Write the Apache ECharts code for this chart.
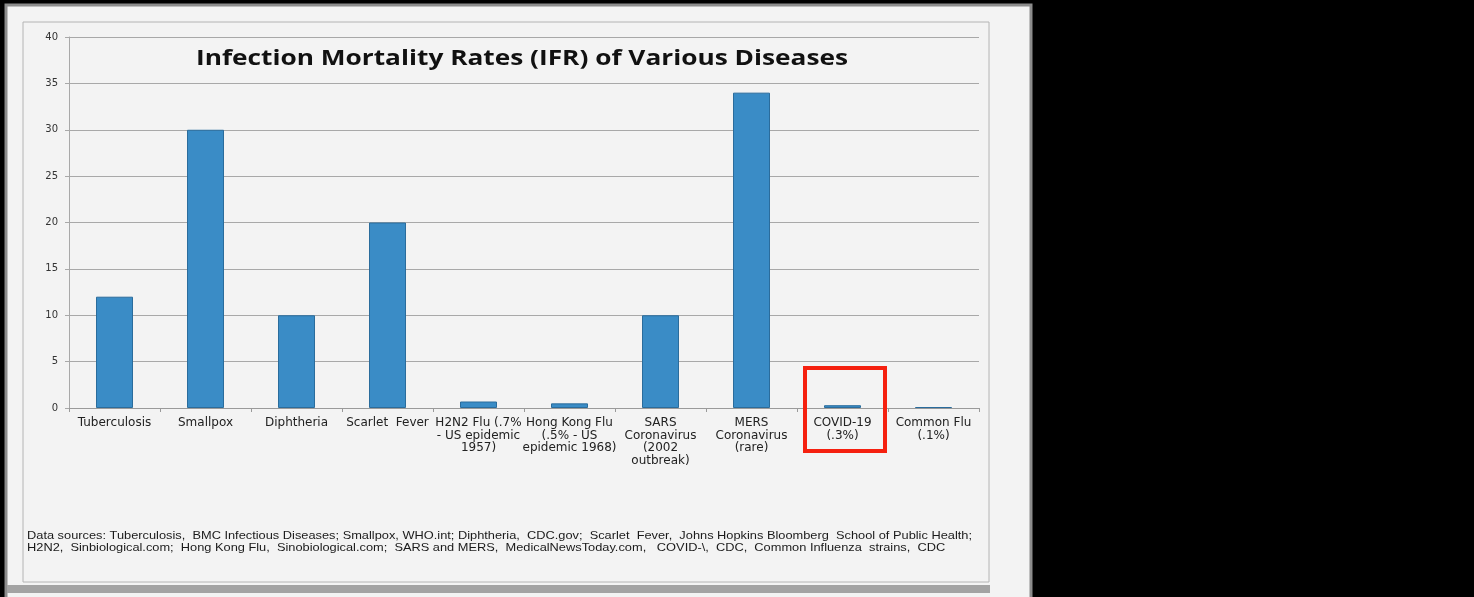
<!DOCTYPE html>
<html>
<head>
<meta charset="utf-8">
<script src="https://cdn.jsdelivr.net/npm/echarts@6/dist/echarts.min.js"></script>
<style>
html,body{margin:0;padding:0;background:#000;}
#c{width:1474px;height:597px;}
</style>
</head>
<body>
<div id="c"></div>
<script>
var categories = [
  "Tuberculosis",
  "Smallpox",
  "Diphtheria",
  "Scarlet  Fever",
  "H2N2 Flu (.7%\n- US epidemic\n1957)",
  "Hong Kong Flu\n(.5% - US\nepidemic 1968)",
  "SARS\nCoronavirus\n(2002\noutbreak)",
  "MERS\nCoronavirus\n(rare)",
  "COVID-19\n(.3%)",
  "Common Flu\n(.1%)"
];
var ifrValues = [12, 30, 10, 20, 0.7, 0.5, 10, 34, 0.3, 0.1];
var yTicks = {min: 0, max: 40, interval: 5};
var titleText = "Infection Mortality Rates (IFR) of Various Diseases";
var sourceLines = [
  "Data sources: Tuberculosis,  BMC Infectious Diseases; Smallpox, WHO.int; Diphtheria,  CDC.gov;  Scarlet  Fever,  Johns Hopkins Bloomberg  School of Public Health;",
  "H2N2,  Sinbiological.com;  Hong Kong Flu,  Sinobiological.com;  SARS and MERS,  MedicalNewsToday.com,   COVID-\\,  CDC,  Common Influenza  strains,  CDC"
];

var chart = echarts.init(document.getElementById('c'), null, {renderer: 'canvas'});
chart.setOption({
  backgroundColor: '#000',
  animation: false,
  graphic: [
    {type: 'rect', z: -10, shape: {x: 6, y: 5, width: 1025, height: 600},
     style: {fill: '#f3f3f3', stroke: '#8c8c8c', lineWidth: 3}},
    {type: 'rect', z: -9, shape: {x: 23, y: 22, width: 966, height: 560},
     style: {fill: 'none', stroke: '#b4b4b4', lineWidth: 1}},
    {type: 'rect', z: -9, shape: {x: 7, y: 585, width: 983, height: 8},
     style: {fill: '#a3a3a3'}},
    {type: 'text', x: 522, y: 59, scaleX: 1.25,
     style: {text: titleText, fontFamily: 'Open Sans', fontWeight: 'bold', fontSize: 21,
             fill: '#111', textAlign: 'center', textVerticalAlign: 'middle'}},
    {type: 'text', x: 27, y: 530, scaleX: 1.22,
     style: {text: sourceLines.join('\n'), fontFamily: 'Liberation Sans', fontSize: 10.5,
             lineHeight: 12, fill: '#1a1a1a', textAlign: 'left', textVerticalAlign: 'top'}},
    {type: 'rect', z: 20, shape: {x: 805, y: 368, width: 80, height: 83},
     style: {fill: 'none', stroke: '#f5200f', lineWidth: 4}}
  ],
  grid: {left: 69, top: 37, right: 495, bottom: 189, containLabel: false},
  xAxis: {
    type: 'category',
    data: categories,
    axisLine: {lineStyle: {color: '#9a9a9a', width: 1}},
    axisTick: {show: true, length: 4, lineStyle: {color: '#9a9a9a'}},
    axisLabel: {interval: 0, margin: 9, fontFamily: 'DejaVu Sans', fontSize: 12,
                lineHeight: 12.5, color: '#222', align: 'center'}
  },
  yAxis: {
    type: 'value',
    min: yTicks.min, max: yTicks.max, interval: yTicks.interval,
    axisLine: {show: true, lineStyle: {color: '#a8a8a8'}},
    axisTick: {show: true, length: 4, lineStyle: {color: '#a8a8a8'}},
    splitLine: {lineStyle: {color: '#a8a8a8', width: 1}},
    axisLabel: {fontFamily: 'DejaVu Sans', fontSize: 10, color: '#333', margin: 11}
  },
  series: [{
    type: 'bar',
    data: ifrValues,
    barWidth: 37,
    itemStyle: {color: '#3a8cc6', borderColor: '#2a6c9c', borderWidth: 1}
  }]
});
</script>
</body>
</html>
